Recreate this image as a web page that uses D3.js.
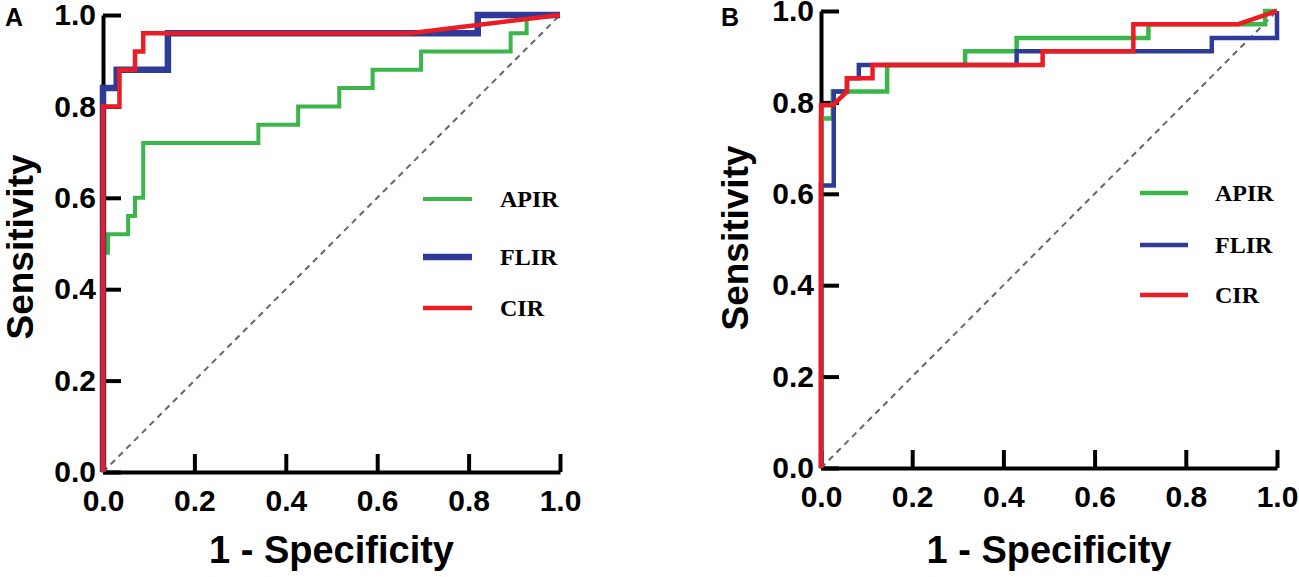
<!DOCTYPE html>
<html><head><meta charset="utf-8">
<script src="https://cdn.jsdelivr.net/npm/d3@7"></script>
<style>body{margin:0;background:#fff}svg{display:block}</style>
</head><body>
<svg id="chart" width="1299" height="577"></svg>
<script>
// ---- data (false positive rate = 1 - specificity, true positive rate = sensitivity)
const tickValues = [0, 0.2, 0.4, 0.6, 0.8, 1.0];
const seriesNames = ["APIR", "FLIR", "CIR"];
const seriesColors = ["#3cb54a", "#2e3b97", "#ec1c24"];

// Panel A
const fprA_APIR = [0,0,0.011,0.011,0.055,0.055,0.07,0.07,0.088,0.088,0.34,0.34,0.427,0.427,0.517,0.517,0.59,0.59,0.696,0.696,0.892,0.892,0.927,0.927,1];
const tprA_APIR = [0,0.48,0.48,0.52,0.52,0.56,0.56,0.60,0.60,0.72,0.72,0.76,0.76,0.80,0.80,0.84,0.84,0.88,0.88,0.92,0.92,0.96,0.96,1,1];
const fprA_FLIR = [0,0,0.03,0.03,0.142,0.142,0.82,0.82,1];
const tprA_FLIR = [0,0.84,0.84,0.88,0.88,0.96,0.96,1,1];
const fprA_CIR  = [0,0,0.036,0.036,0.07,0.07,0.088,0.088,0.672,1];
const tprA_CIR  = [0,0.80,0.80,0.88,0.88,0.92,0.92,0.96,0.96,1];

// Panel B
const fprB_APIR = [0,0,0.026,0.026,0.145,0.145,0.316,0.316,0.429,0.429,0.718,0.718,0.974,0.974,1];
const tprB_APIR = [0,0.765,0.765,0.824,0.824,0.882,0.882,0.912,0.912,0.941,0.941,0.971,0.971,1,1];
const fprB_FLIR = [0,0,0.028,0.028,0.057,0.057,0.083,0.083,0.429,0.429,0.857,0.857,1,1];
const tprB_FLIR = [0,0.618,0.618,0.824,0.824,0.853,0.853,0.882,0.882,0.912,0.912,0.941,0.941,1];
const fprB_CIR  = [0,0,0.026,0.057,0.057,0.113,0.113,0.486,0.486,0.685,0.685,0.915,1];
const tprB_CIR  = [0,0.794,0.794,0.824,0.853,0.853,0.882,0.882,0.912,0.912,0.971,0.971,1];

const panels = [
  { label:"A", x0:103, x1:560, y0:472, y1:15,
    series:[[fprA_APIR,tprA_APIR,4],[fprA_FLIR,tprA_FLIR,6.5],[fprA_CIR,tprA_CIR,4.5]],
    legend:{lx:423, lw:49, tx:500, ys:[199,257,308], widths:[4,6.5,4.5]},
    labelX:5, ylabX:33, ylabY:247 },
  { label:"B", x0:821, x1:1277, y0:468, y1:11,
    series:[[fprB_APIR,tprB_APIR,4.5],[fprB_FLIR,tprB_FLIR,4.5],[fprB_CIR,tprB_CIR,4.5]],
    legend:{lx:1140, lw:48, tx:1215, ys:[193,245,295], widths:[4.5,4.5,4.5]},
    labelX:721, ylabX:748, ylabY:238 }
];

const svg = d3.select("#chart");
const sans = "Arial, 'Liberation Sans', Helvetica, sans-serif";
const serif = "'Times New Roman', 'Liberation Serif', serif";

panels.forEach(p => {
  const x = d3.scaleLinear().domain([0,1]).range([p.x0, p.x1]);
  const y = d3.scaleLinear().domain([0,1]).range([p.y0, p.y1]);
  const fmt = d3.format(".1f");

  // axes
  const gx = svg.append("g").attr("transform", `translate(0,${p.y0})`)
    .call(d3.axisBottom(x).tickValues(tickValues).tickFormat(fmt)
      .tickSizeInner(-18).tickSizeOuter(0).tickPadding(18));
  const gy = svg.append("g").attr("transform", `translate(${p.x0},0)`)
    .call(d3.axisLeft(y).tickValues(tickValues).tickFormat(fmt)
      .tickSizeInner(-18).tickSizeOuter(0).tickPadding(7));
  [gx, gy].forEach(g => {
    g.select(".domain").attr("stroke","#000").attr("stroke-width",4);
    g.selectAll(".tick line").attr("stroke","#000").attr("stroke-width",4);
    g.selectAll(".tick text").attr("fill","#000")
      .style("font-family", sans).style("font-weight","bold").style("font-size","30px");
  });

  // diagonal reference
  svg.append("line")
    .attr("x1", x(0)).attr("y1", y(0)).attr("x2", x(1)).attr("y2", y(1))
    .attr("stroke","#666").attr("stroke-width",2).attr("stroke-dasharray","6,5");

  // ROC curves
  const line = d3.line().x(d => x(d[0])).y(d => y(d[1]));
  p.series.forEach((s, i) => {
    const pts = s[0].map((v, k) => [v, s[1][k]]);
    svg.append("path").datum(pts).attr("d", line)
      .attr("fill","none").attr("stroke", seriesColors[i])
      .attr("stroke-width", s[2]).attr("stroke-linejoin","miter");
  });

  // legend
  seriesNames.forEach((name, i) => {
    const ly = p.legend.ys[i];
    svg.append("line").attr("x1", p.legend.lx).attr("x2", p.legend.lx + p.legend.lw)
      .attr("y1", ly).attr("y2", ly)
      .attr("stroke", seriesColors[i]).attr("stroke-width", p.legend.widths[i]);
    svg.append("text").attr("x", p.legend.tx).attr("y", ly).attr("dy","0.35em")
      .text(name).style("font-family", serif).style("font-weight","bold")
      .style("font-size","24px").attr("fill","#000");
  });

  // axis titles
  svg.append("text").attr("x", (p.x0 + p.x1) / 2).attr("y", 563)
    .attr("text-anchor","middle").text("1 - Specificity")
    .style("font-family", sans).style("font-weight","bold").style("font-size","38px");
  svg.append("text")
    .attr("transform", `translate(${p.ylabX},${p.ylabY}) rotate(-90)`)
    .attr("text-anchor","middle").text("Sensitivity")
    .style("font-family", sans).style("font-weight","bold").style("font-size","37px");

  // panel label
  svg.append("text").attr("x", p.labelX).attr("y", 26).text(p.label)
    .style("font-family", sans).style("font-weight","bold").style("font-size","25px");
});
</script>
</body></html>
